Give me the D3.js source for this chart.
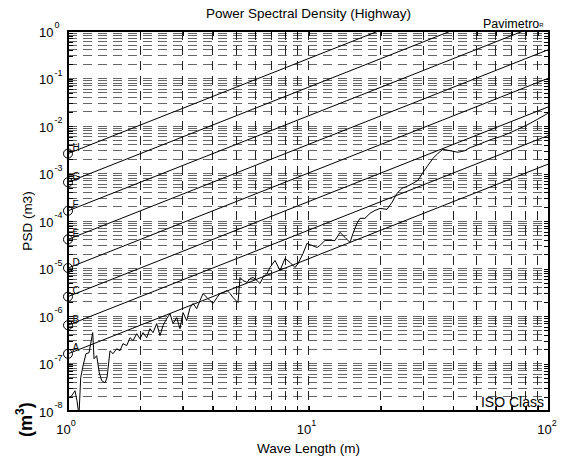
<!DOCTYPE html>
<html><head><meta charset="utf-8">
<script src="https://cdn.jsdelivr.net/npm/d3@7"></script>
<style>
body{margin:0;background:#fff}
svg{display:block}
text{font-family:"Liberation Sans",Arial,Helvetica,sans-serif;fill:#000}
</style>
</head><body>
<svg id="chart" width="565" height="459"></svg>
<script>
// ---- data ----
const wavelength = [1.00,1.036,1.069,1.090,1.111,1.129,1.155,1.188,1.223,1.267,1.283,1.316,1.349,1.381,1.425,1.453,1.495,1.539,1.594,1.645,1.693,1.754,1.811,1.864,1.931,1.993,2.051,2.125,2.193,2.257,2.338,2.413,2.483,2.573,2.656,2.733,2.831,2.922,3.008,3.116,3.217,3.311,3.428,3.539,3.642,3.784,3.894,4.008,4.165,4.286,4.411,4.583,4.717,4.855,5.093,5.191,5.343,5.551,5.713,5.879,6.108,6.286,6.469,6.722,6.918,7.257,7.613,7.987,8.379,8.789,9.045,9.487,9.857,10.34,10.85,11.16,11.71,12.29,12.89,13.52,14.19,14.88,15.31,15.91,16.37,17.17,18.02,18.91,19.83,21.21,22.25,23.33,24.48,25.68,27.20,28.54,29.94,31.41,32.95,34.56,36.26,38.02,41.84,44.5,47.0,50.5,54.0,58.0,63.0,68.0,74.0,81.0,90.0,99.0];
const psd = [1.81e-8,2.09e-8,2.67e-8,1.64e-8,8.0e-9,5.0e-8,9.0e-8,1.61e-7,1.69e-7,4.47e-7,1.26e-7,1.46e-7,6.4e-8,4.34e-8,3.94e-8,5.0e-8,1.86e-7,1.61e-7,2.05e-7,1.86e-7,2.62e-7,2.38e-7,3.5e-7,3.03e-7,4.25e-7,3.33e-7,4.47e-7,3.5e-7,5.42e-7,4.47e-7,6.9e-7,3.86e-7,6.27e-7,8.8e-7,1.12e-6,6.9e-7,9.25e-7,5.42e-7,1.18e-6,8.0e-7,1.50e-6,1.83e-6,1.43e-6,2.11e-6,2.97e-6,2.45e-6,2.11e-6,1.83e-6,2.45e-6,2.97e-6,3.12e-6,3.44e-6,2.97e-6,2.45e-6,1.92e-6,6.46e-6,5.58e-6,5.07e-6,6.15e-6,6.46e-6,5.58e-6,4.83e-6,6.46e-6,7.85e-6,1.05e-5,1.48e-5,9.08e-6,1.63e-5,1.34e-5,1.05e-5,1.27e-5,2.07e-5,3.37e-5,3.06e-5,2.77e-5,3.06e-5,3.90e-5,3.90e-5,3.90e-5,5.75e-5,4.51e-5,3.54e-5,5.47e-5,8.9e-5,1.14e-4,1.14e-4,1.45e-4,1.67e-4,1.84e-4,1.76e-4,2.47e-4,3.82e-4,4.87e-4,5.37e-4,6.21e-4,7.19e-4,1.06e-3,1.49e-3,2.09e-3,2.67e-3,3.24e-3,3.08e-3,2.80e-3,3.0e-3,3.5e-3,4.0e-3,4.6e-3,5.3e-3,6.0e-3,7.0e-3,8.5e-3,1.05e-2,1.4e-2,1.85e-2];

const isoClasses = ["A","B","C","D","E","F","G","H"];
const isoAt1m   = [1.6e-7,6.4e-7,2.56e-6,1.024e-5,4.096e-5,1.6384e-4,6.5536e-4,2.62144e-3];
const isoAt100m = [1.6e-3,6.4e-3,2.56e-2,1.024e-1,4.096e-1,1.6384,6.5536,26.2144];

const xTickValues = [1,10,100];
const xTickExp = ["0","1","2"];
const yTickValues = [1,1e-1,1e-2,1e-3,1e-4,1e-5,1e-6,1e-7,1e-8];
const yTickExp = ["0","-1","-2","-3","-4","-5","-6","-7","-8"];

const titleText = "Power Spectral Density (Highway)";
const xLabelText = "Wave Length (m)";
const yLabelText = "PSD (m3)";

// ---- layout ----
const L = 68, R = 549, T = 31, B = 411;
const svg = d3.select("#chart");
const x = d3.scaleLog().domain([1,100]).range([L,R]);
const y = d3.scaleLog().domain([1e-8,1]).range([B,T]);

svg.append("defs").append("clipPath").attr("id","plotclip")
  .append("rect").attr("x",L).attr("y",T).attr("width",R-L).attr("height",B-T);

// grid (dashed, every major+minor tick)
const gx = x.ticks().filter(v => v > 1 && v < 100);
const gy = y.ticks().filter(v => v > 1e-8 && v < 1);
const grid = svg.append("g").attr("stroke","#666").attr("stroke-width",1)
  .attr("stroke-dasharray","9,6").attr("fill","none").attr("shape-rendering","crispEdges");
grid.selectAll("line.h").data(gy).join("line").attr("class","h")
  .attr("x1",L).attr("x2",R).attr("y1",d=>y(d)).attr("y2",d=>y(d));
grid.selectAll("line.v").data(gx).join("line").attr("class","v")
  .attr("y1",T).attr("y2",B).attr("x1",d=>x(d)).attr("x2",d=>x(d)).attr("stroke","#222");

// ticks (inward, all four sides)
const tk = 5;
const allX = x.ticks(), allY = y.ticks();
svg.append("g").attr("transform",`translate(0,${B})`)
  .call(d3.axisBottom(x).tickValues(allX).tickSize(-tk).tickFormat(""))
  .call(g=>g.select(".domain").remove());
svg.append("g").attr("transform",`translate(0,${T})`)
  .call(d3.axisTop(x).tickValues(allX).tickSize(-tk).tickFormat(""))
  .call(g=>g.select(".domain").remove());
svg.append("g").attr("transform",`translate(${L},0)`)
  .call(d3.axisLeft(y).tickValues(allY).tickSize(-tk).tickFormat(""))
  .call(g=>g.select(".domain").remove());
svg.append("g").attr("transform",`translate(${R},0)`)
  .call(d3.axisRight(y).tickValues(allY).tickSize(-tk).tickFormat(""))
  .call(g=>g.select(".domain").remove());
svg.selectAll(".tick line").attr("stroke","#000").attr("shape-rendering","crispEdges");

// ISO class lines
const plot = svg.append("g").attr("clip-path","url(#plotclip)");
const iso = isoClasses.map((c,i)=>({c, p:[[1,isoAt1m[i]],[100,isoAt100m[i]]]}));
const line = d3.line().x(d=>x(d[0])).y(d=>y(d[1]));
plot.selectAll("path.iso").data(iso).join("path").attr("class","iso")
  .attr("d",d=>line(d.p)).attr("fill","none").attr("stroke","#000").attr("stroke-width",1);

// measured PSD
const series = wavelength.map((w,i)=>[w,psd[i]]);
plot.append("path").datum(series).attr("d",line)
  .attr("fill","none").attr("stroke","#000").attr("stroke-width",1);

// circles + letters
svg.selectAll("circle.iso").data(iso).join("circle").attr("class","iso")
  .attr("cx",x(1)).attr("cy",d=>y(d.p[0][1])).attr("r",4.5)
  .attr("fill","none").attr("stroke","#000").attr("stroke-width",1);
svg.selectAll("text.iso").data(iso).join("text").attr("class","iso")
  .attr("x",x(1)+4.5).attr("y",d=>y(d.p[0][1])-2.5)
  .attr("font-size",10).text(d=>d.c);

// box
svg.append("rect").attr("x",L).attr("y",T).attr("width",R-L).attr("height",B-T)
  .attr("fill","none").attr("stroke","#000").attr("stroke-width",2);

// tick labels
xTickValues.forEach((v,i)=>{
  const t = svg.append("text").attr("x",x(v)-2).attr("y",B+23).attr("text-anchor","middle").attr("font-size",13);
  t.append("tspan").text("10");
  t.append("tspan").attr("dy",-8).attr("font-size",9).text(xTickExp[i]);
});
yTickValues.forEach((v,i)=>{
  svg.append("text").attr("x",53.5).attr("y",y(v)+5.5).attr("text-anchor","end").attr("font-size",13).text("10");
  svg.append("text").attr("x",54.5).attr("y",y(v)-3).attr("font-size",9).text(yTickExp[i]);
});

// title, labels
svg.append("text").attr("x",(L+R)/2).attr("y",18).attr("text-anchor","middle").attr("font-size",13.5).text(titleText);
svg.append("text").attr("x",(L+R)/2).attr("y",453).attr("text-anchor","middle").attr("font-size",13.5).text(xLabelText);
svg.append("text").attr("transform",`translate(32,${(T+B)/2}) rotate(-90)`).attr("text-anchor","middle").attr("font-size",13.5).text(yLabelText);

const pav = svg.append("text").attr("x",483).attr("y",27.5).attr("font-size",12.5);
pav.append("tspan").text("Pavimetro");
pav.append("tspan").attr("font-size",6).attr("dy",-1).text("R");

svg.append("text").attr("x",544).attr("y",407).attr("text-anchor","end").attr("font-size",14).text("ISO Class");

const m3 = svg.append("text").attr("transform","translate(32,437) rotate(-90)").attr("font-size",18).attr("font-weight","bold");
m3.append("tspan").text("(m");
m3.append("tspan").attr("font-size",12).attr("dy",-8).text("3");
m3.append("tspan").attr("dy",8).text(")");
</script>
</body></html>
